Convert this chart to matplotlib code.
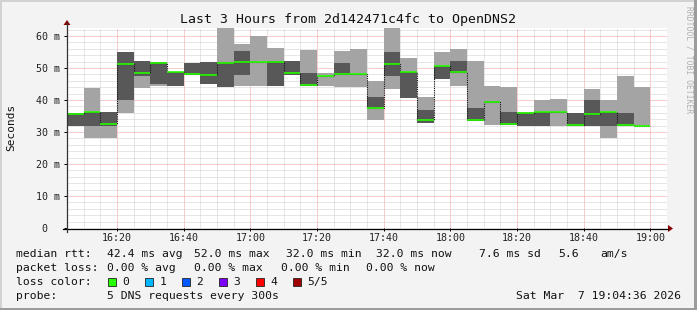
import matplotlib
matplotlib.use('Agg')
import matplotlib.pyplot as plt
from matplotlib.lines import Line2D
from matplotlib.patches import Rectangle, Polygon
from matplotlib.ticker import MultipleLocator
from matplotlib.transforms import ScaledTranslation
import numpy as np

W, H = 697, 310

# ---- data ----
bar_start = ["16:05", "16:10", "16:15", "16:20", "16:25", "16:30", "16:35",
             "16:40", "16:45", "16:50", "16:55", "17:00", "17:05", "17:10",
             "17:15", "17:20", "17:25", "17:30", "17:35", "17:40", "17:45",
             "17:50", "17:55", "18:00", "18:05", "18:10", "18:15", "18:20",
             "18:25", "18:30", "18:35", "18:40", "18:45", "18:50", "18:55"]
ping_min = [32.0, 28.2, 28.0, 35.8, 43.6, 44.3, 44.3, 47.7, 44.9, 44.2,
            44.3, 44.3, 44.5, 47.7, 44.4, 44.3, 44.2, 44.1, 33.9, 43.4,
            40.5, 32.7, 46.7, 44.5, 33.5, 32.1, 32.1, 32.0, 32.0, 32.0,
            32.0, 32.0, 28.2, 31.8, 31.9]
ping_lo = [32.0, 32.0, 32.0, 39.9, 47.5, 44.9, 44.3, 47.8, 44.9, 44.2,
           47.7, 51.8, 44.5, 47.7, 44.5, 47.4, 47.9, 47.9, 37.5, 47.4,
           40.5, 32.7, 46.7, 48.5, 33.5, 39.4, 32.1, 32.0, 32.0, 36.0,
           32.0, 32.0, 32.0, 32.0, 31.9]
median = [35.6, 36.1, 32.4, 51.1, 48.3, 51.5, 48.6, 48.0, 47.9, 51.7,
          51.9, 51.9, 51.9, 48.3, 44.6, 47.5, 48.0, 48.0, 37.6, 51.1,
          48.6, 33.6, 50.5, 48.7, 33.6, 39.5, 32.5, 35.8, 36.1, 36.1,
          32.3, 35.6, 36.1, 32.3, 31.9]
ping_hi = [35.8, 36.3, 36.2, 55.1, 52.3, 52.0, 48.8, 51.7, 52.0, 51.9,
           55.4, 52.0, 52.1, 52.2, 48.5, 47.6, 51.7, 48.1, 41.0, 55.1,
           48.8, 37.0, 50.7, 52.1, 37.6, 39.6, 36.3, 36.0, 36.2, 36.2,
           36.0, 39.9, 36.2, 36.0, 32.0]
ping_max = [35.8, 43.6, 36.3, 55.1, 52.3, 52.0, 48.8, 51.7, 52.0, 64.0,
            57.6, 59.9, 56.3, 52.2, 55.7, 48.5, 55.2, 56.0, 45.8, 64.0,
            53.2, 41.0, 54.9, 56.0, 52.3, 44.5, 44.2, 36.1, 40.0, 40.2,
            36.0, 43.5, 40.1, 47.6, 44.2]
xtick_labels = ["16:20", "16:40", "17:00", "17:20", "17:40", "18:00",
                "18:20", "18:40", "19:00"]
ytick_values = [0, 10, 20, 30, 40, 50, 60]
ytick_labels = ["0", "10 m", "20 m", "30 m", "40 m", "50 m", "60 m"]
loss_labels = ["0", "1", "2", "3", "4", "5/5"]
loss_colors = ["#26ff00", "#00b8ff", "#0059ff", "#7e00ff", "#ff0000", "#a10000"]

FONT = 'DejaVu Sans Mono'


def to_min(s):
    h, m = s.split(':')
    return (int(h) - 16) * 60 + int(m)


def fx(x):
    return x / W


def fy(y):
    return 1 - y / H


x = np.array([to_min(s) for s in bar_start], dtype=float)
xt = [to_min(s) for s in xtick_labels]
pmin = np.array(ping_min)
plo = np.array(ping_lo)
pmed = np.array(median)
phi = np.array(ping_hi)
pmax = np.array(ping_max)
step = 5.0

fig = plt.figure(figsize=(W / 100, H / 100), dpi=100)
fig.patch.set_facecolor('#f3f3f3')

ax = fig.add_axes([fx(67), fy(228), 600 / W, 200 / H])
ax.set_facecolor('white')
ax.set_xlim(5, 185)
ax.set_ylim(0, 62.5)
for s in ax.spines.values():
    s.set_visible(False)

# grid
ax.set_xticks(xt)
ax.set_xticklabels(xtick_labels)
ax.xaxis.set_minor_locator(MultipleLocator(5))
ax.set_yticks(ytick_values)
ax.set_yticklabels(ytick_labels)
ax.yaxis.set_minor_locator(MultipleLocator(2))
ax.set_axisbelow(True)
ax.grid(which='minor', color='#cfcfcf', linestyle=(0, (1, 1)), linewidth=0.72)
ax.grid(which='major', color='#f29a9a', linestyle=(0, (1, 1)), linewidth=0.72)
ax.tick_params(which='major', direction='out', length=2.2, width=0.72,
               color='black', labelsize=7.2, pad=2.6)
ax.tick_params(which='minor', length=0)
for lab in ax.get_xticklabels() + ax.get_yticklabels():
    lab.set_fontfamily(FONT)
    lab.set_color('#222222')
ax.tick_params(axis='x', pad=1.6)
# "0" label sits further left (no unit suffix)
zl = ax.get_yticklabels()[0]
zl.set_transform(zl.get_transform() + ScaledTranslation(-13 / 100, 0, fig.dpi_scale_trans))

# smoke
ax.bar(x, pmax - pmin, bottom=pmin, width=step, align='edge',
       color='#a4a4a4', linewidth=0, zorder=2)
ax.bar(x, phi - plo, bottom=plo, width=step, align='edge',
       color='#585858', linewidth=0, zorder=3)
# median step (dark dotted) and loss-coloured median segments
edges = np.append(x, x[-1] + step)
ax.stairs(pmed, edges, baseline=None, color='#111111', linewidth=0.8,
          linestyle=(0, (1, 1)), zorder=4)
ax.hlines(pmed, x, x + step, color=loss_colors[0], linewidth=1.2, zorder=5)

# axis lines with arrows
fig.add_artist(Line2D([fx(63), fx(668)], [fy(228.5), fy(228.5)], color='black', lw=0.9))
fig.add_artist(Line2D([fx(67), fx(67)], [fy(232), fy(23)], color='#333333', lw=0.9))
fig.add_artist(Polygon([[fx(668), fy(225)], [fx(668), fy(232)], [fx(673), fy(228.5)]],
                       closed=True, color='#8b0000', lw=0))
fig.add_artist(Polygon([[fx(63.5), fy(25)], [fx(70.5), fy(25)], [fx(67), fy(20)]],
                       closed=True, color='#8b0000', lw=0))

# texts
fig.text(fx(348.5), fy(19), "Last 3 Hours from 2d142471c4fc to OpenDNS2",
         family=FONT, fontsize=9.5, ha='center', va='center', color='#111111')
fig.text(fx(11), fy(127), "Seconds", family=FONT, fontsize=8, rotation=90,
         ha='center', va='center', color='#111111')
fig.text(fx(689), fy(60), "RRDTOOL / TOBI OETIKER", family=FONT, fontsize=5.8,
         rotation=270, ha='center', va='center', color='#b0b0b0')

LFS = 8.2


def t(xp, yp, s, **kw):
    fig.text(fx(xp), fy(yp), s, family=FONT, fontsize=LFS, ha=kw.get('ha', 'left'),
             va='center', color='#111111')


t(16, 254, "median rtt:")
t(107, 254, "42.4 ms avg")
t(194, 254, "52.0 ms max")
t(286, 254, "32.0 ms min")
t(376, 254, "32.0 ms now")
t(479, 254, "7.6 ms sd")
t(558, 254, "5.6")
t(600, 254, "am/s")

t(16, 268, "packet loss:")
t(107, 268, "0.00 % avg")
t(194, 268, "0.00 % max")
t(281, 268, "0.00 % min")
t(366, 268, "0.00 % now")

t(16, 282, "loss color:")
box_x = [108, 145, 182, 219, 256, 293]
for bx, lab, col in zip(box_x, loss_labels, loss_colors):
    fig.add_artist(Rectangle((fx(bx), fy(285.5)), 8 / W, 8 / H, facecolor=col,
                             edgecolor='#222222', lw=0.6, transform=fig.transFigure))
    t(bx + 14.5, 282, lab)

t(16, 296, "probe:")
t(107, 296, "5 DNS requests every 300s")
t(681, 296, "Sat Mar  7 19:04:36 2026", ha='right')

# frame shading
fig.add_artist(Rectangle((0, 0), 2 / W, 1, facecolor='#d2d2d2', lw=0, transform=fig.transFigure))
fig.add_artist(Rectangle((0, fy(2)), 1, 2 / H, facecolor='#d2d2d2', lw=0, transform=fig.transFigure))
fig.add_artist(Rectangle((fx(694), 0), 3 / W, 1, facecolor='#9c9c9c', lw=0, transform=fig.transFigure))
fig.add_artist(Rectangle((0, 0), 1, 2 / H, facecolor='#9c9c9c', lw=0, transform=fig.transFigure))

fig.savefig('out.png', dpi=100, facecolor=fig.get_facecolor())
